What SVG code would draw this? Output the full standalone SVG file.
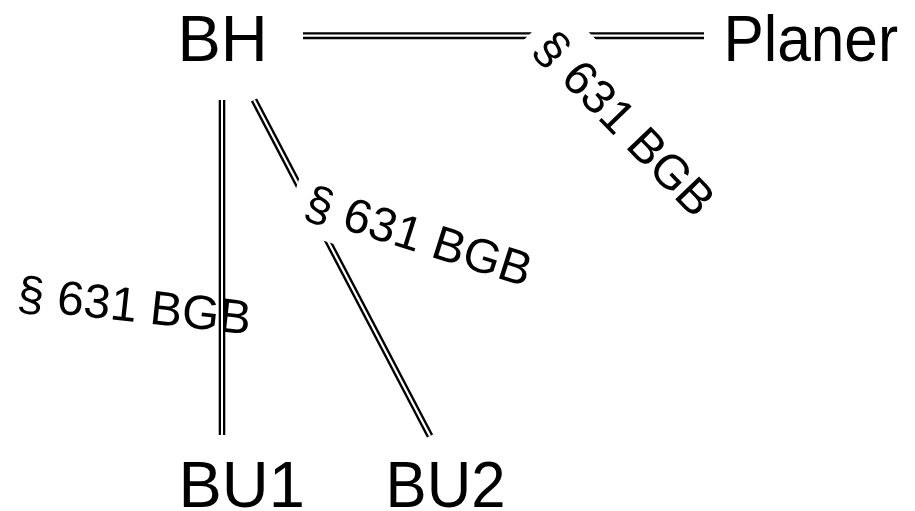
<svg xmlns="http://www.w3.org/2000/svg" width="915" height="511" viewBox="0 0 915 511">
<style>
.node{font-family:"Liberation Sans",Arial,sans-serif;font-size:65px;fill:#000}
.lbl{font-family:"Liberation Sans",Arial,sans-serif;font-size:48px;fill:#000}
.outer{stroke:#000;stroke-width:7;fill:none}
.inner{stroke:#fff;stroke-width:2.2;fill:none}
.bg{fill:#fff;stroke:none}
</style>
<rect width="915" height="511" fill="#fff"/>
<g id="label-bu1">
<text class="lbl" transform="translate(16,309) rotate(6.2)">§ 631 BGB</text>
</g>
<g id="connectors">
<g id="bh-bu1">
<line class="outer" x1="222" y1="100" x2="222" y2="435" style="stroke-width:6.6"/>
<line class="inner" x1="222" y1="100" x2="222" y2="435" style="stroke-width:2"/>
</g>
<g id="bh-bu2">
<line class="outer" x1="254" y1="100" x2="430" y2="436"/>
<line class="inner" x1="254" y1="100" x2="430" y2="436"/>
</g>
<g id="bh-planer">
<line class="outer" x1="303" y1="35.7" x2="704" y2="35.7"/>
<line class="inner" x1="303" y1="35.7" x2="704" y2="35.7"/>
</g>
</g>
<g id="label-bu2" transform="translate(302,216) rotate(17.6)">
<rect class="bg" x="-14" y="-54" width="255" height="71"/>
<text class="lbl" x="0" y="0">§ 631 BGB</text>
</g>
<g id="label-planer" transform="translate(531.5,50.6) rotate(46)">
<rect class="bg" x="-13" y="-54" width="255" height="71"/>
<text class="lbl" x="0" y="0">§ 631 BGB</text>
</g>
<g id="node-bh"><text class="node" x="177.5" y="61">BH</text></g>
<g id="node-planer"><text class="node" x="723.4" y="61" textLength="174.7" lengthAdjust="spacingAndGlyphs">Planer</text></g>
<g id="node-bu1"><text class="node" x="178.5" y="507">BU1</text></g>
<g id="node-bu2"><text class="node" x="385.5" y="507" textLength="120" lengthAdjust="spacingAndGlyphs">BU2</text></g>
</svg>
